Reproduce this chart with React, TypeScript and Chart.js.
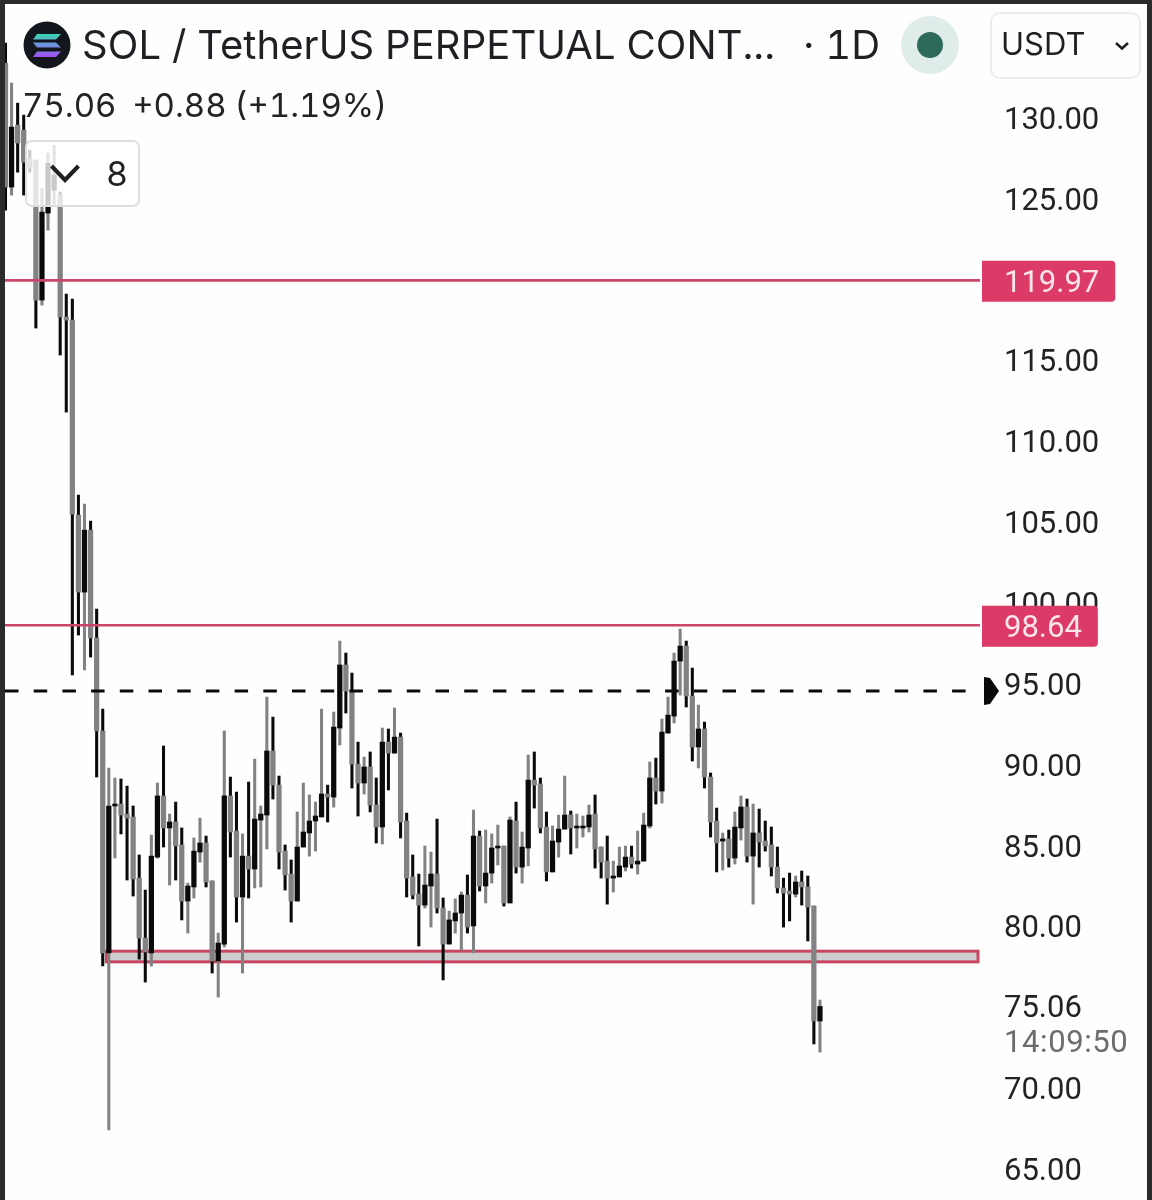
import React, { useEffect, useRef } from "react";
import { Chart, registerables } from "chart.js";

Chart.register(...registerables);

const highs = [
  134.64,132.17,130.93,130.19,128.02,127.41,125.67,127.84,128.33,125.43,
  119.12,118.81,106.69,106.13,105.08,99.64,93.45,89.81,89.19,89.13,
  88.69,87.46,84.43,82.26,85.66,88.88,91.17,86.96,87.70,86.10,
  82.69,85.48,86.71,85.60,82.82,79.60,92.10,89.25,88.32,85.73,
  88.94,90.36,87.46,94.20,92.96,89.31,85.05,84.12,87.09,88.88,
  88.14,87.70,93.45,88.75,93.27,97.66,96.92,95.68,91.41,90.49,
  90.80,89.19,92.28,92.22,93.52,91.97,87.02,84.43,83.25,84.98,
  84.61,86.65,81.77,80.96,81.71,82.14,83.19,87.21,85.91,85.97,
  85.73,86.28,84.98,86.78,87.70,85.85,90.61,90.80,89.19,87.09,
  86.22,86.90,89.31,87.15,86.96,86.84,87.52,88.14,84.92,85.60,
  84.05,84.92,84.98,84.98,85.91,87.02,90.18,90.42,92.84,94.20,
  96.92,98.40,97.66,95.99,93.70,92.65,89.50,87.33,85.79,85.97,
  87.09,88.08,87.89,87.58,87.27,86.53,86.16,84.92,83.00,83.31,
  83.13,83.44,83.13,81.27,75.46,
];
const lows = [
  124.31,125.24,126.66,125.24,126.66,117.02,118.44,123.08,124.62,115.35,
  111.82,95.56,98.03,95.87,96.67,89.25,77.56,67.42,84.24,85.73,
  82.88,81.89,77.99,76.57,77.56,84.24,84.92,82.57,82.88,80.41,
  79.60,81.77,83.99,82.45,77.13,75.64,78.74,84.30,80.28,77.13,
  81.77,82.39,82.45,84.80,87.89,83.56,82.26,80.28,81.58,84.92,
  84.36,84.67,86.78,86.47,87.39,91.23,93.21,88.57,86.84,88.20,
  87.09,85.17,85.11,88.45,90.73,85.48,81.83,81.71,78.80,81.15,
  79.97,80.84,76.70,78.92,79.60,78.55,79.60,78.37,82.20,81.46,
  82.69,83.81,81.27,81.46,83.31,82.69,83.75,87.33,85.79,82.82,
  83.38,84.30,86.03,84.49,84.86,85.54,85.85,83.62,83.00,81.39,
  82.14,83.07,83.44,83.62,83.25,84.05,86.10,87.58,87.64,91.97,
  92.59,94.32,93.58,90.24,89.81,88.57,85.54,83.38,83.50,83.68,
  83.87,85.35,83.99,81.39,83.68,84.67,83.13,82.08,79.97,80.35,
  81.83,81.33,79.11,72.74,72.24,
];
const opens = [
  133.40,125.74,129.57,129.26,127.53,127.41,118.75,124.13,125.55,125.24,
  117.70,117.51,105.45,100.69,104.52,97.85,92.10,78.37,87.46,87.58,
  86.96,86.78,83.00,79.29,78.37,84.30,88.08,86.10,86.47,85.05,
  81.58,82.45,84.61,85.17,82.82,77.87,78.92,88.08,85.91,81.83,
  84.36,83.56,86.59,86.90,90.86,88.75,84.67,83.25,81.58,84.92,
  85.79,86.53,86.78,88.20,88.01,92.28,96.18,94.57,90.05,88.88,
  89.87,87.52,86.16,91.41,90.73,91.72,86.53,83.07,82.01,81.33,
  82.51,83.25,81.15,78.92,80.35,80.84,81.95,80.04,85.60,82.51,
  83.31,84.86,84.98,81.46,86.53,83.68,84.86,89.06,88.82,86.16,
  83.38,85.23,86.03,86.90,86.10,86.10,86.16,86.96,84.92,84.05,
  83.00,83.07,83.68,84.30,83.87,84.05,86.22,89.19,88.38,91.97,
  93.02,96.42,97.35,94.26,91.11,92.22,89.25,86.53,85.29,85.42,
  84.24,86.10,87.40,84.36,85.79,85.29,85.05,83.68,82.39,82.20,
  82.01,82.76,82.45,81.27,74.16,
];
const closes = [
  125.74,129.45,128.46,127.28,126.91,118.75,124.19,127.22,126.48,117.70,
  117.51,105.51,100.69,104.52,97.85,92.10,78.37,87.46,87.58,86.90,
  86.71,82.94,79.29,78.43,84.36,88.08,86.10,86.47,84.98,81.58,
  82.51,84.67,85.17,82.76,77.87,78.98,88.08,85.85,81.83,84.36,
  83.56,86.65,86.96,90.86,88.75,84.61,83.19,81.58,84.92,85.85,
  86.53,86.84,88.20,88.01,92.34,96.18,94.57,90.05,88.88,89.87,
  87.52,86.16,91.41,90.73,91.72,86.47,83.00,81.95,81.33,82.57,
  83.25,81.15,78.92,80.41,80.84,81.95,79.97,85.60,82.51,83.31,
  84.86,84.98,81.46,86.59,83.68,84.92,89.06,88.75,86.10,83.38,
  85.29,86.03,86.90,86.10,86.22,86.22,86.90,84.80,83.99,83.00,
  83.13,83.75,84.30,83.87,84.05,86.28,89.19,88.38,92.03,93.08,
  96.42,97.35,94.26,91.11,92.22,89.25,86.47,85.17,85.42,84.24,
  86.16,87.40,84.36,85.79,85.23,84.98,83.68,82.39,82.08,82.01,
  82.76,82.45,81.21,74.16,75.06,
];

const priceTicks = [130, 125, 120, 115, 110, 105, 100, 95, 90, 85, 80, 75.06, 70, 65];
const levelLines = [119.97, 98.64];
const dashedLevel = 94.57;
const zoneBand = [77.82, 78.48];
const zoneStartIndex = 16.6;
const countdownText = "14:09:50";
const lastPrice = 75.06;

const FONT = "Inter, 'Noto Sans', sans-serif";
const AXIS_FONT = "Roboto, 'Noto Sans', sans-serif";
const BLACK = "#0a0a0a";
const GREY = "#828285";
const RED = "#c9466a";
const TAG = "#dc3a67";

const indexMin = -0.08;
const indexMax = 160.33;

const overlayPlugin = {
  id: "overlays",
  beforeDatasetsDraw(chart: any) {
    const { ctx, chartArea, scales } = chart;
    const left = scales.x.getPixelForValue(zoneStartIndex);
    const top = scales.y.getPixelForValue(zoneBand[1]);
    const bottom = scales.y.getPixelForValue(zoneBand[0]);
    ctx.save();
    ctx.fillStyle = "#cdcdcf";
    ctx.fillRect(left, top, chartArea.right - 2 - left, bottom - top);
    ctx.strokeStyle = "#c8465f";
    ctx.lineWidth = 3;
    ctx.strokeRect(left, top, chartArea.right - 2 - left, bottom - top);
    ctx.restore();
  },
  afterDatasetsDraw(chart: any) {
    const { ctx, chartArea, scales } = chart;
    ctx.save();
    ctx.font = `31px ${AXIS_FONT}`;
    ctx.textBaseline = "middle";
    levelLines.forEach((value) => {
      const y = scales.y.getPixelForValue(value);
      const text = value.toFixed(2);
      const textLeft = chartArea.right + 24;
      const right = textLeft + ctx.measureText(text).width + 16;
      ctx.fillStyle = TAG;
      ctx.beginPath();
      ctx.roundRect(chartArea.right + 2, y - 19.5, right - chartArea.right - 2, 41, [0, 4, 4, 0]);
      ctx.fill();
      ctx.fillStyle = "#fbe4ea";
      ctx.fillText(text, textLeft, y + 4);
    });
    const ay = scales.y.getPixelForValue(dashedLevel);
    const ax = chartArea.right + 3;
    ctx.fillStyle = "#0a0a0a";
    ctx.beginPath();
    ctx.moveTo(ax + 1, ay - 14);
    ctx.lineTo(ax + 7, ay - 13);
    ctx.lineTo(ax + 16, ay);
    ctx.lineTo(ax + 7, ay + 13);
    ctx.lineTo(ax + 1, ay + 14);
    ctx.closePath();
    ctx.fill();
    ctx.fillStyle = "#6c6c6e";
    ctx.font = `31px ${AXIS_FONT}`;
    (ctx as any).letterSpacing = "0.6px";
    ctx.fillText(countdownText, chartArea.right + 24, scales.y.getPixelForValue(lastPrice) + 38);
    ctx.restore();
  },
};

function PriceChart() {
  const ref = useRef<HTMLCanvasElement | null>(null);
  useEffect(() => {
    if (!ref.current) return;
    const wickData = highs.map((h, i) => ({ x: i, y: [lows[i], h] }));
    const bodyData = opens.map((o, i) => ({ x: i, y: [Math.min(o, closes[i]), Math.max(o, closes[i])] }));
    const isUp = closes.map((c, i) => c >= opens[i]);
    const lineOf = (value: number) => [
      { x: indexMin, y: value },
      { x: indexMax, y: value },
    ];
    const chart = new Chart(ref.current, {
      type: "bar",
      data: {
        datasets: [
          ...levelLines.map((v) => ({
            type: "line",
            data: lineOf(v),
            borderColor: RED,
            borderWidth: 2.6,
            pointRadius: 0,
            order: 0,
          })),
          {
            type: "line",
            data: lineOf(dashedLevel),
            borderColor: "#0a0a0a",
            borderWidth: 3,
            borderDash: [13.5, 15.2],
            pointRadius: 0,
            order: 0,
          },
          {
            type: "bar",
            data: bodyData,
            backgroundColor: isUp.map((u) => (u ? BLACK : GREY)),
            barThickness: 4.6,
            minBarLength: 1.5,
            order: 1,
          },
          {
            type: "bar",
            data: wickData,
            backgroundColor: isUp.map((u) => (u ? GREY : BLACK)),
            barThickness: 2.4,
            order: 2,
          },
        ],
      } as any,
      options: {
        animation: false,
        responsive: false,
        devicePixelRatio: 1,
        parsing: { xAxisKey: "x", yAxisKey: "y" },
        datasets: { bar: { grouped: false } },
        layout: { padding: { left: 5, top: 5, right: 0, bottom: 0 } },
        plugins: { legend: { display: false }, tooltip: { enabled: false } },
        scales: {
          x: { type: "linear", min: indexMin, max: indexMax, display: false, offset: false },
          y: {
            type: "linear",
            position: "right",
            min: 63.09,
            max: 137,
            grid: { display: false, drawTicks: false },
            border: { display: false },
            afterFit(scale: any) {
              scale.width = 172;
              scale.paddingTop = 0;
              scale.paddingBottom = 0;
            },
            afterBuildTicks(scale: any) {
              scale.ticks = priceTicks.map((value) => ({ value }));
            },
            ticks: {
              autoSkip: false,
              padding: 24,
              labelOffset: 3,
              color: "#222326",
              font: { family: AXIS_FONT, size: 31 },
              align: "center",
              callback: (v: any) => Number(v).toFixed(2),
            },
          },
        },
      } as any,
      plugins: [overlayPlugin],
    });
    return () => chart.destroy();
  }, []);
  return <canvas ref={ref} width={1152} height={1200} style={{ display: "block", position: "absolute", left: 0, top: 0 }} />;
}

export default function App() {
  const text: React.CSSProperties = { position: "absolute", fontFamily: FONT, color: "#1e2024", whiteSpace: "nowrap", lineHeight: 1, fontVariantNumeric: "tabular-nums" };
  return (
    <div style={{ position: "absolute", left: 0, top: 0, width: 1152, height: 1200, overflow: "hidden", background: "#fefefe" }}>
      <PriceChart />
      <div style={{ position: "absolute", left: 0, top: 0, width: 1152, height: 4, background: "#2b2b2b" }} />
      <div style={{ position: "absolute", left: 0, top: 0, width: 5, height: 1200, background: "#2b2b2b" }} />
      <div style={{ position: "absolute", left: 1147, top: 0, width: 5, height: 1200, background: "#2b2b2b" }} />

      <svg width={48} height={48} viewBox="0 0 48 48" style={{ position: "absolute", left: 23, top: 21 }}>
        <defs>
          <linearGradient id="sol" x1="0" y1="0" x2="0" y2="1">
            <stop offset="0" stopColor="#39d8b0" />
            <stop offset="0.5" stopColor="#6f8fe0" />
            <stop offset="1" stopColor="#a04ff2" />
          </linearGradient>
        </defs>
        <circle cx="24" cy="24" r="23.5" fill="#14161d" />
        <path d="M14 13 H38 L33 18.5 H10 Z M10 21.5 H33 L38 26.5 H14 Z M14 30.5 H38 L33 36 H10 Z" fill="url(#sol)" />
      </svg>
      <div style={{ ...text, left: 82, top: 25, fontSize: 40, letterSpacing: 0.07 }}>SOL / TetherUS PERPETUAL CONT...</div>
      <div style={{ ...text, left: 803, top: 25, fontSize: 40 }}>· 1D</div>
      <div style={{ position: "absolute", left: 901, top: 16, width: 58, height: 58, borderRadius: 29, background: "#e0ecea" }} />
      <div style={{ position: "absolute", left: 917, top: 32, width: 26, height: 26, borderRadius: 13, background: "#2d6a5a" }} />
      <div style={{ position: "absolute", left: 990, top: 12, width: 147, height: 63, border: "2px solid #ececec", borderRadius: 10 }} />
      <div style={{ ...text, left: 1001, top: 28, fontSize: 31 }}>USDT</div>
      <svg width={16} height={10} viewBox="0 0 16 10" style={{ position: "absolute", left: 1114, top: 41 }}>
        <path d="M2 2 L8 7.5 L14 2" fill="none" stroke="#1e2024" strokeWidth="2.6" />
      </svg>

      <div style={{ ...text, left: 22, top: 89, fontSize: 33, wordSpacing: -1, color: "#222326" }}>75.06&nbsp; +0.88 (+1.19%)</div>

      <div style={{ position: "absolute", left: 25, top: 140, width: 111, height: 63, border: "2px solid #dedede", borderRadius: 7, background: "rgba(255,255,255,0.78)" }} />
      <svg width={32} height={22} viewBox="0 0 32 22" style={{ position: "absolute", left: 49, top: 163 }}>
        <path d="M2.5 3 L16 17 L29.5 3" fill="none" stroke="#1e2024" strokeWidth="4" />
      </svg>
      <div style={{ ...text, left: 106, top: 157, fontSize: 34 }}>8</div>
    </div>
  );
}
